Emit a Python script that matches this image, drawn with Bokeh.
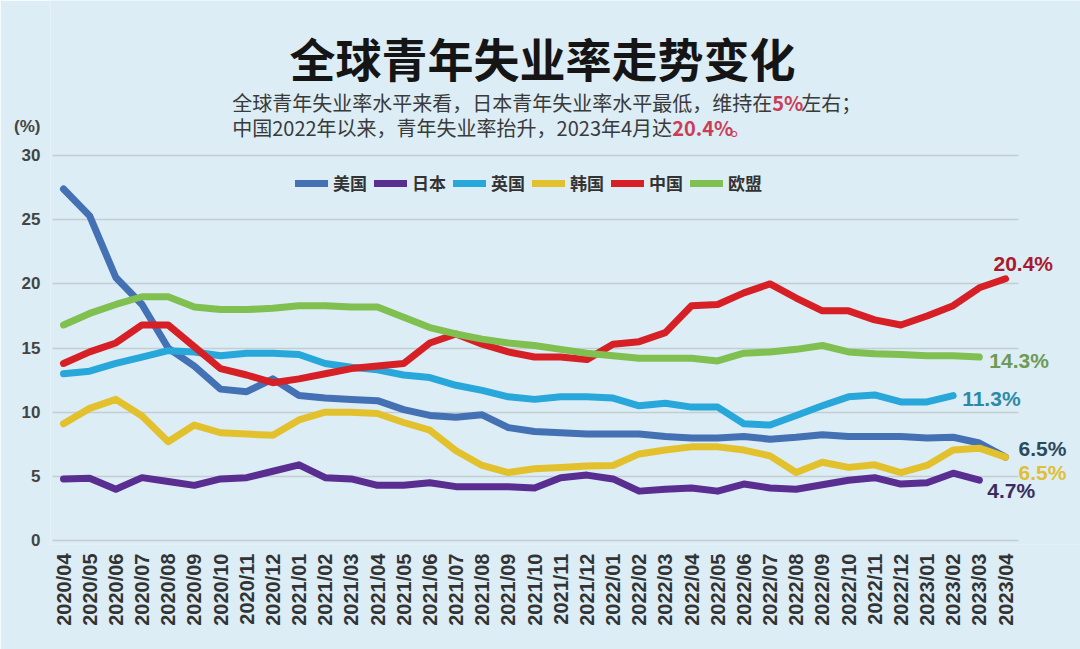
import math
from bokeh.plotting import figure
from bokeh.models import (ColumnDataSource, Range1d, FixedTicker,
                          Legend, LegendItem, Label, LabelSet)
from bokeh.core.properties import value, field
from bokeh.embed import file_html
from bokeh.resources import INLINE

# ---------------- data ----------------
months = ["2020/04", "2020/05", "2020/06", "2020/07", "2020/08", "2020/09", "2020/10",
          "2020/11", "2020/12", "2021/01", "2021/02", "2021/03", "2021/04", "2021/05",
          "2021/06", "2021/07", "2021/08", "2021/09", "2021/10", "2021/11", "2021/12",
          "2022/01", "2022/02", "2022/03", "2022/04", "2022/05", "2022/06", "2022/07",
          "2022/08", "2022/09", "2022/10", "2022/11", "2022/12", "2023/01", "2023/02",
          "2023/03", "2023/04"]

series_names = ["美国", "日本", "英国", "韩国", "中国", "欧盟"]

us = [27.4, 25.3, 20.5, 18.4, 15.0, 13.6, 11.8, 11.6, 12.6, 11.3, 11.1, 11.0, 10.9,
      10.2, 9.75, 9.6, 9.8, 8.8, 8.5, 8.4, 8.3, 8.3, 8.3, 8.1, 8.0, 8.0, 8.1, 7.9,
      8.05, 8.25, 8.1, 8.1, 8.1, 8.0, 8.05, 7.6, 6.5]
japan = [4.8, 4.85, 4.0, 4.9, 4.6, 4.3, 4.8, 4.9, 5.4, 5.9, 4.9, 4.8, 4.3, 4.3, 4.5,
         4.2, 4.2, 4.2, 4.1, 4.9, 5.1, 4.8, 3.85, 4.0, 4.1, 3.85, 4.4, 4.1, 4.0, 4.35,
         4.7, 4.9, 4.4, 4.5, 5.25, 4.7]
uk = [13.0, 13.2, 13.8, 14.3, 14.8, 14.7, 14.4, 14.6, 14.6, 14.5, 13.8, 13.5, 13.3,
      12.9, 12.7, 12.1, 11.7, 11.2, 11.0, 11.2, 11.2, 11.1, 10.5, 10.7, 10.4, 10.4,
      9.1, 9.0, 9.75, 10.5, 11.2, 11.35, 10.8, 10.8, 11.3]
korea = [9.1, 10.3, 11.0, 9.7, 7.7, 9.0, 8.4, 8.3, 8.2, 9.4, 10.0, 10.0, 9.9, 9.2, 8.6,
         7.0, 5.85, 5.3, 5.6, 5.7, 5.8, 5.85, 6.75, 7.05, 7.3, 7.3, 7.05, 6.6, 5.3, 6.1,
         5.7, 5.9, 5.3, 5.85, 7.05, 7.2, 6.5]
china = [13.8, 14.7, 15.4, 16.8, 16.8, 15.1, 13.4, 12.9, 12.3, 12.6, 13.0, 13.4, 13.6,
         13.8, 15.4, 16.1, 15.3, 14.7, 14.3, 14.3, 14.1, 15.3, 15.5, 16.2, 18.3, 18.4,
         19.3, 20.0, 18.9, 17.9, 17.9, 17.2, 16.8, 17.5, 18.3, 19.7, 20.4]
eu = [16.8, 17.7, 18.4, 19.0, 19.0, 18.2, 18.0, 18.0, 18.1, 18.3, 18.3, 18.2, 18.2,
      17.4, 16.6, 16.1, 15.7, 15.4, 15.2, 14.9, 14.6, 14.4, 14.2, 14.2, 14.2, 14.0,
      14.6, 14.7, 14.9, 15.2, 14.7, 14.55, 14.5, 14.4, 14.4, 14.3]

y_ticks = [0, 5, 10, 15, 20, 25, 30]
unit_label = "(%)"
unit_tick = 32.25

end_texts = ["20.4%", "14.3%", "11.3%", "6.5%", "6.5%", "4.7%"]

# ---------------- style ----------------
colors = ["#4470b4", "#5a2d91", "#27a7da", "#e3c12d", "#d71f26", "#80c050"]
BG = "#dcedf5"
CJK = "Noto Sans CJK SC"

n = len(months)
p = figure(x_range=Range1d(-0.497, n - 1 + 2.866),
           y_range=Range1d(-0.31, 42.09),
           width=1080, height=649, output_backend="svg", toolbar_location=None,
           min_border_left=50, min_border_right=0, min_border_top=0,
           min_border_bottom=105)

p.background_fill_color = BG
p.border_fill_color = BG
p.outline_line_color = None

p.xgrid.grid_line_color = None
p.ygrid.grid_line_color = "#c3cdd2"
p.ygrid.grid_line_width = 1.5
p.ygrid.ticker = FixedTicker(ticks=y_ticks)
try:
    p.ygrid.cross_bounds = (-0.42, n - 0.5)
except Exception:
    pass

p.yaxis.ticker = FixedTicker(ticks=y_ticks + [unit_tick])
p.yaxis.major_label_overrides = {unit_tick: unit_label}
p.xaxis.ticker = FixedTicker(ticks=list(range(n)))
p.xaxis.major_label_overrides = {i: m for i, m in enumerate(months)}

for ax in (p.xaxis[0], p.yaxis[0]):
    ax.axis_line_color = None
    ax.major_tick_line_color = None
    ax.minor_tick_line_color = None
    ax.major_tick_out = 0
    ax.major_tick_in = 0

p.yaxis.major_label_text_font = "Liberation Sans"
p.yaxis.major_label_text_font_size = "17px"
p.yaxis.major_label_text_font_style = "bold"
p.yaxis.major_label_text_color = "#444444"
p.yaxis.major_label_standoff = 10

p.xaxis.major_label_orientation = math.pi / 2
p.xaxis.major_label_text_font = "Liberation Sans"
p.xaxis.major_label_text_font_size = "20px"
p.xaxis.major_label_text_font_style = "bold"
p.xaxis.major_label_text_color = "#333333"
p.xaxis.major_label_standoff = 9

all_series = [us, japan, uk, korea, china, eu]
renderers = []
for vals, c in zip(all_series, colors):
    r = p.line(list(range(len(vals))), vals, line_color=c, line_width=7,
               line_join="round", line_cap="round")
    renderers.append(r)

legend = Legend(items=[LegendItem(label=nm, renderers=[r]) for nm, r in zip(series_names, renderers)],
                orientation="horizontal", location=(245, 349),
                glyph_width=33, glyph_height=20, label_standoff=5, spacing=7,
                padding=0, margin=0, border_line_color=None,
                background_fill_alpha=0,
                label_text_font=CJK, label_text_font_size="17px",
                label_text_font_style="bold", label_text_color="#333333")
p.add_layout(legend)

# end-of-line value labels, anchored to the last point of each series
ends = [china, eu, uk, us, korea, japan]
src = ColumnDataSource(dict(x=[len(s) - 1 for s in ends], y=[s[-1] for s in ends],
                            text=end_texts,
                            color=["#a8192e", "#6f9a55", "#2d8aa6", "#2b4a5e", "#e0bf35", "#3b2c5e"],
                            xo=[-12, 10, 9, 13, 13, 8],
                            yo=[15, -3, -3, 9, -15, -10]))
p.add_layout(LabelSet(x="x", y="y", text="text", source=src,
                      x_offset="xo", y_offset="yo",
                      text_color=field("color"), text_font=value("Liberation Sans"),
                      text_font_size="21px", text_font_style="bold",
                      text_align="left", text_baseline="middle"))

# ---------------- titles (screen units relative to frame) ----------------
FL, FB = 50, 544  # frame left / bottom in page pixels


def lab(text, px, py, size, color, style="normal", align="left", font=CJK, alpha=1.0):
    p.add_layout(Label(x=px - FL, y=FB - py, x_units="screen", y_units="screen",
                       text=text, text_font=font, text_font_size=size,
                       text_font_style=style, text_color=color, text_align=align,
                       text_baseline="middle", text_alpha=alpha))


lab("全球青年失业率走势变化", 542, 56, "46px", "#151515", "bold", "center")

sub_y1, sub_y2, sub_x = 101.7, 126.7, 231.7
lab("全球青年失业率水平来看，日本青年失业率水平最低，维持在", sub_x, sub_y1, "20px", "#3a3a3a")
lab("5%", sub_x + 27 * 20, sub_y1, "20px", "#cc3d55", "bold")
lab("左右；", sub_x + 27 * 20 + 29, sub_y1, "20px", "#3a3a3a")
lab("中国2022年以来，青年失业率抬升，2023年4月达", sub_x, sub_y2, "20px", "#3a3a3a")
lab("20.4%", sub_x + 440, sub_y2, "20px", "#cc3d55", "bold")
lab("。", sub_x + 440 + 58, sub_y2, "20px", "#cc3d55")

open("out.html", "w").write(file_html(p, INLINE))
